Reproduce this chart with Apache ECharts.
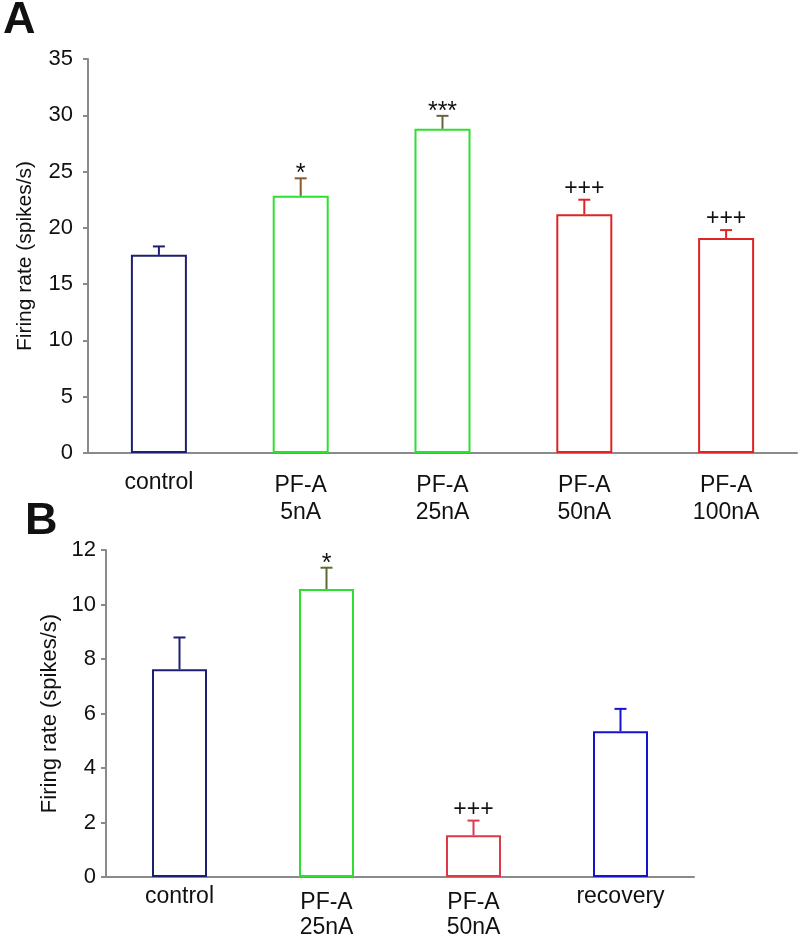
<!DOCTYPE html>
<html>
<head>
<meta charset="utf-8">
<script src="https://cdn.jsdelivr.net/npm/echarts@6/dist/echarts.min.js"></script>
<style>html,body{margin:0;padding:0;background:#fff}#c{width:800px;height:941px}</style>
</head>
<body>
<div id="c"></div>
<script>
// Panel A data
const catsA = ['control', 'PF-A\n5nA', 'PF-A\n25nA', 'PF-A\n50nA', 'PF-A\n100nA'];
const meanA = [17.6, 22.85, 28.8, 21.2, 19.1];
const errA = [0.75, 1.55, 1.15, 1.3, 0.7];
const sigA = ['', '*', '***', '+++', '+++'];
const ticksA = { min: 0, max: 35, interval: 5 };

// Panel B data
const catsB = ['control', 'PF-A\n25nA', 'PF-A\n50nA', 'recovery'];
const meanB = [7.62, 10.57, 1.53, 5.35];
const errB = [1.17, 0.78, 0.54, 0.82];
const sigB = ['', '*', '+++', ''];
const ticksB = { min: 0, max: 12, interval: 2 };

// styles
const NAVY = '#1e1e72', GREEN = '#2ee02e', RED = '#e02424', BLUE = '#1414cc';
const barColA = [NAVY, GREEN, GREEN, RED, RED];
const errColA = [NAVY, '#8a5a2a', '#6b6040', RED, RED];
const barColB = [NAVY, GREEN, '#dc3a48', BLUE];
const errColB = [NAVY, '#5a6a30', '#dc3a48', BLUE];

const FONT = 'Arial, "Liberation Sans", sans-serif';
const AXC = '#8a8a8a';

function errRender(sigs, cols) {
  return function (params, api) {
    const i = api.value(0), m = api.value(1), e = api.value(2);
    const b = api.coord([i, m]);
    const t = api.coord([i, m + e]);
    const col = cols[params.dataIndex];
    const s = sigs[params.dataIndex];
    const children = [
      { type: 'line', shape: { x1: b[0], y1: b[1], x2: t[0], y2: t[1] }, style: { stroke: col, lineWidth: 2 } },
      { type: 'line', shape: { x1: t[0] - 6, y1: t[1], x2: t[0] + 6, y2: t[1] }, style: { stroke: col, lineWidth: 2 } }
    ];
    if (s) {
      const isStar = s.indexOf('*') >= 0;
      children.push({
        type: 'text',
        x: t[0], y: t[1] - (isStar ? 4 : 11),
        style: {
          text: s, fill: '#111', font: (isStar ? '25px ' : '23px ') + FONT,
          textAlign: 'center', textVerticalAlign: 'middle'
        }
      });
    }
    return { type: 'group', children };
  };
}

function catData(cats, singleLH) {
  return cats.map(c => c.indexOf('\n') < 0 ? { value: c, textStyle: { lineHeight: singleLH } } : c);
}

const chart = echarts.init(document.getElementById('c'));

chart.setOption({
  animation: false,
  backgroundColor: '#fff',
  graphic: [
    { type: 'text', x: 3, y: 21, style: { text: 'A', font: 'bold 45px ' + FONT, fill: '#111', textVerticalAlign: 'middle' } },
    { type: 'text', x: 25, y: 522, style: { text: 'B', font: 'bold 45px ' + FONT, fill: '#111', textVerticalAlign: 'middle' } }
  ],
  grid: [
    { left: 88, top: 59, width: 709, height: 394 },
    { left: 106, top: 550, width: 588, height: 327 }
  ],
  xAxis: [
    {
      gridIndex: 0, type: 'category', data: catData(catsA, 21),
      axisLine: { lineStyle: { color: AXC, width: 2 } }, axisTick: { show: false },
      axisLabel: { color: '#111', fontSize: 23, lineHeight: 27, fontFamily: FONT, margin: 19 }
    },
    {
      gridIndex: 1, type: 'category', data: catData(catsB, 14),
      axisLine: { lineStyle: { color: AXC, width: 2 } }, axisTick: { show: false },
      axisLabel: { color: '#111', fontSize: 23, lineHeight: 25, fontFamily: FONT, margin: 13 }
    }
  ],
  yAxis: [
    {
      gridIndex: 0, type: 'value', min: ticksA.min, max: ticksA.max, interval: ticksA.interval,
      name: 'Firing rate (spikes/s)', nameLocation: 'middle', nameGap: 52,
      nameTextStyle: { color: '#111', fontSize: 21, fontFamily: FONT },
      axisLine: { show: true, lineStyle: { color: AXC, width: 2 } },
      axisTick: { show: true, length: 5, lineStyle: { color: AXC, width: 2 } },
      splitLine: { show: false },
      axisLabel: { color: '#111', fontSize: 22, fontFamily: FONT, margin: 15 }
    },
    {
      gridIndex: 1, type: 'value', min: ticksB.min, max: ticksB.max, interval: ticksB.interval,
      name: 'Firing rate (spikes/s)', nameLocation: 'middle', nameGap: 41,
      nameTextStyle: { color: '#111', fontSize: 22, fontFamily: FONT },
      axisLine: { show: true, lineStyle: { color: AXC, width: 2 } },
      axisTick: { show: true, length: 5, lineStyle: { color: AXC, width: 2 } },
      splitLine: { show: false },
      axisLabel: { color: '#111', fontSize: 22, fontFamily: FONT, margin: 10 }
    }
  ],
  series: [
    {
      type: 'bar', xAxisIndex: 0, yAxisIndex: 0, barWidth: 56,
      data: meanA.map((v, i) => ({ value: v, itemStyle: { color: '#fff', borderColor: barColA[i], borderWidth: 2 } }))
    },
    {
      type: 'custom', xAxisIndex: 0, yAxisIndex: 0, z: 5,
      renderItem: errRender(sigA, errColA),
      data: meanA.map((v, i) => [i, v, errA[i]])
    },
    {
      type: 'bar', xAxisIndex: 1, yAxisIndex: 1, barWidth: 55,
      data: meanB.map((v, i) => ({ value: v, itemStyle: { color: '#fff', borderColor: barColB[i], borderWidth: 2 } }))
    },
    {
      type: 'custom', xAxisIndex: 1, yAxisIndex: 1, z: 5,
      renderItem: errRender(sigB, errColB),
      data: meanB.map((v, i) => [i, v, errB[i]])
    }
  ]
});
</script>
</body>
</html>
